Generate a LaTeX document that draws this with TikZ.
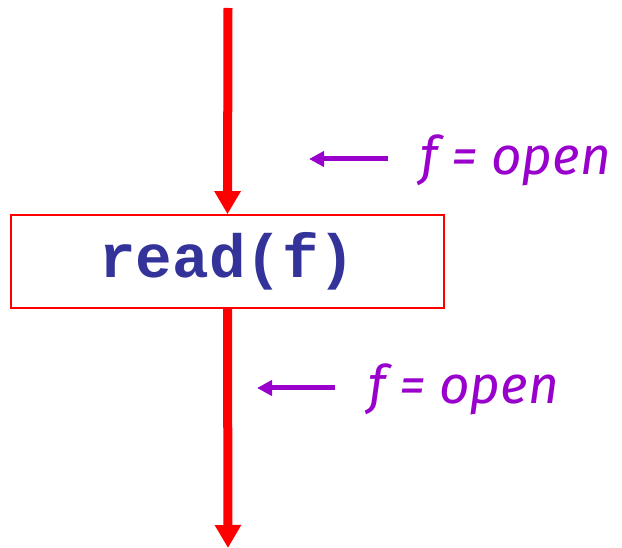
\documentclass[tikz,border=0pt]{standalone}
\usepackage{fontspec}
\newfontfamily\monob{Liberation Mono}
\newfontfamily\labfont{Fira Sans}
\usetikzlibrary{arrows.meta}
\definecolor{flowred}{RGB}{255,0,0}
\definecolor{codeblue}{RGB}{51,51,153}
\definecolor{labpurple}{RGB}{153,0,204}
\tikzset{
  flow/.style={draw=flowred, line width=9pt, -{Triangle[length=23pt,width=25pt]}},
  stmtbox/.style={draw=flowred, line width=1.6pt, minimum width=433pt, minimum height=93pt, inner sep=0pt, text=codeblue, font=\monob\bfseries\fontsize{61}{63}\selectfont},
  note/.style={draw=labpurple, line width=5pt, -{Triangle[length=15pt,width=15pt]}},
  notetext/.style={text=labpurple, anchor=west, inner sep=0pt, font=\labfont\itshape\fontsize{53}{55}\selectfont}
}
\begin{document}
\begin{tikzpicture}[x=1pt,y=-1pt]
\useasboundingbox (0,0) rectangle (622,548);
\node[stmtbox] (box) at (227.5,261.5) {\raisebox{-3pt}{read(f)}};
\coordinate (top) at (228,8);
\coordinate (bot) at (228,548);
\draw[flow] (top) -- (box.north);
\draw[flow] (box.south) -- (bot);
\coordinate (n1s) at (388,159);
\coordinate (n1e) at (309,159);
\draw[note] (n1s) -- (n1e);
\node[notetext] (l1) at (420,160) {f = open};
\coordinate (n2s) at (335,388);
\coordinate (n2e) at (257,388);
\draw[note] (n2s) -- (n2e);
\node[notetext] (l2) at (368,389) {f = open};
\end{tikzpicture}
\end{document}
